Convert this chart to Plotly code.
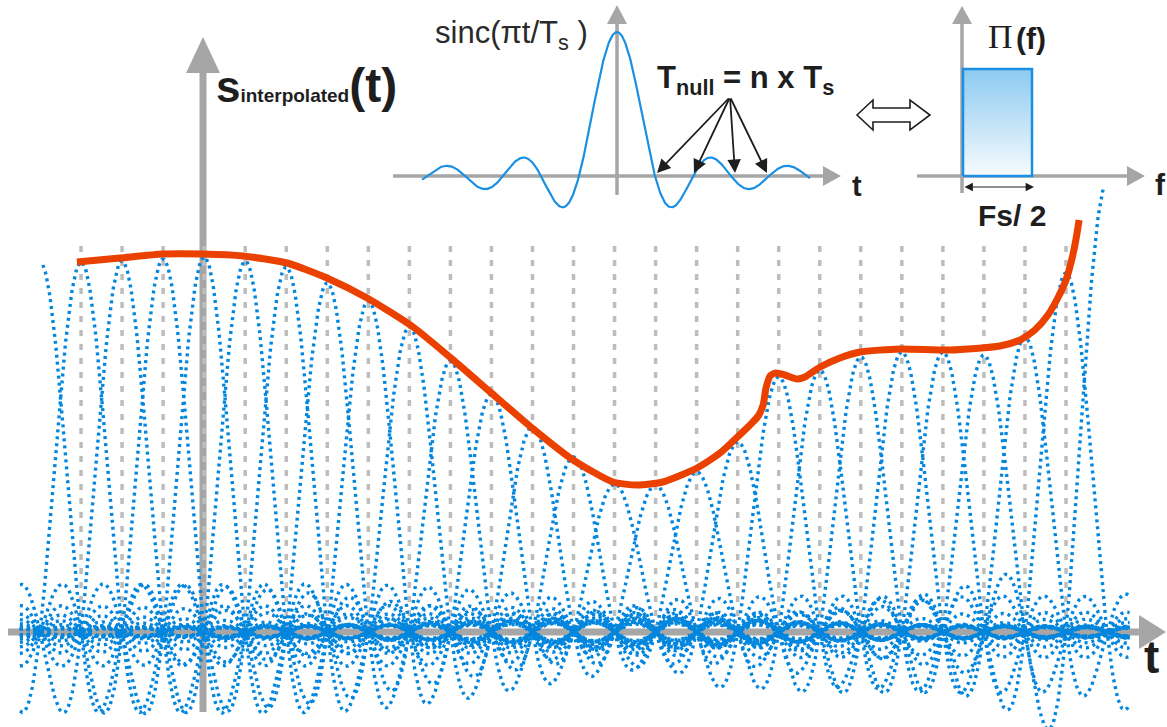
import numpy as np
import plotly.graph_objects as go

W, H = 1167, 727

# ---- data -------------------------------------------------------------
# sample instants n (in units of Ts) and the sample amplitudes s(nTs)
sample_n = list(range(27))
sample_value = [3.70, 3.70, 3.71, 3.73, 3.75, 3.71, 3.65, 3.49, 3.31, 3.05,
                2.71, 2.38, 2.05, 1.75, 1.48, 1.47, 1.60, 1.90, 2.55, 2.62,
                2.75, 2.80, 2.80, 2.77, 2.95, 3.59, 4.49]

# interpolated signal s_interpolated(t) (t in units of Ts)
interp_t = [0.90, 1.95, 3.00, 3.97, 4.95, 6.02, 6.99, 7.97, 9.09, 10.04,
            10.97, 11.99, 12.99, 13.96, 14.55, 15.18, 16.01, 16.57, 16.89, 17.30,
            17.50, 17.62, 17.69, 17.79, 17.93, 18.15, 18.45, 18.64, 19.01, 19.49,
            19.98, 20.96, 22.17, 23.39, 23.88, 24.24, 24.56, 24.80, 25.00,
            25.15, 25.24, 25.32]
interp_v = [3.70, 3.74, 3.78, 3.78, 3.76, 3.69, 3.54, 3.34, 3.05, 2.73,
            2.40, 2.04, 1.72, 1.50, 1.47, 1.50, 1.64, 1.79, 1.91, 2.07,
            2.16, 2.27, 2.44, 2.56, 2.59, 2.57, 2.53, 2.55, 2.65, 2.74,
            2.80, 2.83, 2.82, 2.86, 2.92, 3.02, 3.17, 3.34, 3.52,
            3.74, 3.92, 4.12]

# inset: sinc kernel shown over a few sample periods, and the ideal low-pass Π(f)
kernel_t_span = [-5.13, 5.08]
lowpass_f = [0, 0, 0.5, 0.5, 0]
lowpass_a = [0, 1, 1, 0, 0]

# ---- styling ----------------------------------------------------------
AX = "#a6a6a6"
BLUE_DOT = "#0286de"
BLUE = "#1a8fe3"
RED = "#eb4100"
INK = "#1e1e1e"
FONT = "Liberation Sans, Arial, sans-serif"


def P(x, y):
    """pixel position -> paper coordinates"""
    return x / W, 1 - y / H


fig = go.Figure()

# gray dashed guides at each sample instant
gx, gy = [], []
for n in sample_n[1:-1]:
    gx += [n, n, None]
    gy += [3.86, 0, None]
fig.add_trace(go.Scatter(x=gx, y=gy, mode="lines", hoverinfo="skip",
                         line=dict(color="#bdbdbd", width=3.5, dash="6px,8px")))

# one weighted sinc per sample
t = np.arange(-0.49, 26.56, 0.02)
for n, s in zip(sample_n, sample_value):
    mask = np.ones_like(t, dtype=bool)
    if n == sample_n[0]:
        mask = t >= n + 0.07
    elif n == sample_n[-1]:
        mask = t <= n - 0.07
    tt = t[mask]
    fig.add_trace(go.Scatter(x=tt, y=s * np.sinc(tt - n), mode="lines",
                             hoverinfo="skip",
                             line=dict(color=BLUE_DOT, width=3.4, dash="3px,4px")))

# the interpolated signal
fig.add_trace(go.Scatter(x=interp_t, y=interp_v, mode="lines", hoverinfo="skip",
                         line=dict(color=RED, width=7, shape="spline", smoothing=0.6)))

# inset sinc kernel
kt = np.linspace(kernel_t_span[0], kernel_t_span[1], 800)
fig.add_trace(go.Scatter(x=kt, y=np.sinc(kt), mode="lines", xaxis="x2", yaxis="y2",
                         hoverinfo="skip", line=dict(color=BLUE, width=2.2)))

# inset ideal low-pass spectrum
fig.add_trace(go.Scatter(x=lowpass_f, y=lowpass_a, mode="lines", xaxis="x3", yaxis="y3",
                         fill="toself", hoverinfo="skip",
                         fillgradient=dict(type="vertical",
                                           colorscale=[[0, "#f7fbfe"], [1, "#8ccaf0"]]),
                         line=dict(color=BLUE, width=2.5)))

# ---- axes drawn as arrows ---------------------------------------------
shapes = []


def line(x0, y0, x1, y1, w, color=AX):
    a, b = P(x0, y0)
    c, d = P(x1, y1)
    shapes.append(dict(type="line", xref="paper", yref="paper", x0=a, y0=b, x1=c, y1=d,
                       line=dict(color=color, width=w), layer="below"))


def poly(pts, fill, outline=None, w=0, layer="below"):
    path = "M " + " L ".join("%.5f,%.5f" % P(x, y) for x, y in pts) + " Z"
    shapes.append(dict(type="path", xref="paper", yref="paper", path=path,
                       fillcolor=fill, layer=layer,
                       line=dict(color=outline or fill, width=w)))


# main time axis and amplitude axis
line(8, 632, 1141, 632, 7)
poly([(1139, 615), (1139, 649), (1166, 632)], AX)
line(203, 712, 203, 70, 7)
poly([(186, 73), (220, 73), (203, 37)], AX)

# inset sinc axes
line(393, 176, 825, 176, 3.5)
poly([(823, 166), (823, 186), (841, 176)], AX)
line(617, 195, 617, 22, 3.5)
poly([(607, 24), (627, 24), (617, 5)], AX)

# inset spectrum axes
line(917, 176, 1129, 176, 3.5)
poly([(1127, 166), (1127, 186), (1145, 176)], AX)
line(962, 193, 962, 22, 3.5)
poly([(952, 24), (972, 24), (962, 6)], AX)

# hollow double arrow (Fourier pair)
poly([(857, 115), (873, 100), (873, 108), (910, 108), (910, 100), (930, 115),
      (910, 130), (910, 122), (873, 122), (873, 130)], "white", INK, 1.6, layer="above")

# ---- text ---------------------------------------------------------------
ann = []


def text(x, y, s, size, color=INK, family=FONT, xanchor="center"):
    a, b = P(x, y)
    ann.append(dict(x=a, y=b, xref="paper", yref="paper", text=s, showarrow=False,
                    xanchor=xanchor, yanchor="middle",
                    font=dict(size=size, color=color, family=family)))


text(214, 86, "<b><span style='font-size:44px'>s</span>"
              "<span style='font-size:19px'>interpolated</span>"
              "<span style='font-size:48px'>(t)</span></b>", 44, xanchor="left")
text(1151, 657, "<b>t</b>", 46)
text(511, 35, "sinc(πt/T<sub>s</sub> )", 31, color="#2a2a2a")
text(745, 80, "<b>T<sub>null</sub> = n x T<sub>s</sub></b>", 31)
text(857, 186, "<b>t</b>", 29)
text(1160, 185, "<b>f</b>", 30)
text(1012, 215, "<b>Fs/ 2</b>", 30)
text(1000, 37, "Π", 34, family="Liberation Serif, Times New Roman, serif")
text(1031, 38, "<b>(f)</b>", 30)

# arrows pointing at the sinc zero crossings
for hx in (657, 694, 735, 767):
    a, b = P(hx, 173)
    ann.append(dict(x=a, y=b, xref="paper", yref="paper", text="", showarrow=True,
                    ax=730 - hx, ay=97 - 173, arrowhead=2, arrowsize=1.5,
                    arrowwidth=1.8, arrowcolor=INK, standoff=0))

# Fs/2 span marker
a, b = P(1034, 187)
ann.append(dict(x=a, y=b, xref="paper", yref="paper", text="", showarrow=True,
                ax=-71, ay=0, arrowhead=2, startarrowhead=2, arrowside="end+start",
                arrowsize=1.4, startarrowsize=1.4, arrowwidth=1.2, arrowcolor=INK,
                standoff=0, startstandoff=0))

# ---- layout -------------------------------------------------------------
T_PX, T0_PX, AXIS_Y, V_PX = 41.04, 40.0, 632.0, 100.0
K_PX, K0_PX, KY_PX, KA_PX = 38.0, 617.0, 176.0, 144.0
F_PX, F0_PX, FA_PX = 138.0, 963.0, 107.0

hidden = dict(visible=False, showgrid=False, zeroline=False, fixedrange=True)
fig.update_layout(
    width=W, height=H, margin=dict(l=0, r=0, t=0, b=0),
    paper_bgcolor="white", plot_bgcolor="white", showlegend=False,
    xaxis=dict(range=[(0 - T0_PX) / T_PX, (W - T0_PX) / T_PX], domain=[0, 1], **hidden),
    yaxis=dict(range=[(AXIS_Y - H) / V_PX, AXIS_Y / V_PX], domain=[0, 1], **hidden),
    xaxis2=dict(range=[(0 - K0_PX) / K_PX, (W - K0_PX) / K_PX], overlaying="x",
                anchor="y2", **hidden),
    yaxis2=dict(range=[(KY_PX - H) / KA_PX, KY_PX / KA_PX], overlaying="y",
                anchor="x2", **hidden),
    xaxis3=dict(range=[(0 - F0_PX) / F_PX, (W - F0_PX) / F_PX], overlaying="x",
                anchor="y3", **hidden),
    yaxis3=dict(range=[(KY_PX - H) / FA_PX, KY_PX / FA_PX], overlaying="y",
                anchor="x3", **hidden),
    shapes=shapes, annotations=ann,
)

fig.write_html("out.html")
